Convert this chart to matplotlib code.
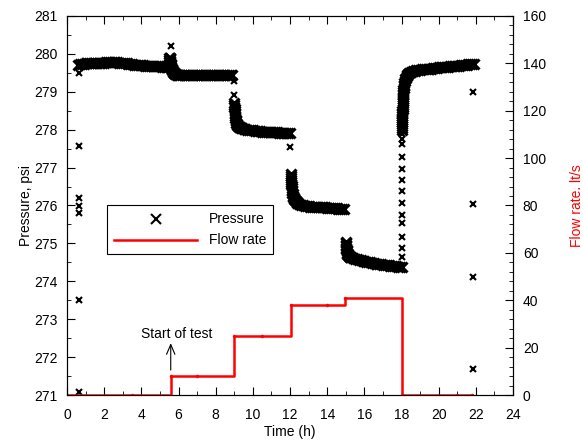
import numpy as np
import matplotlib
matplotlib.use('Agg')
import matplotlib.pyplot as plt
from matplotlib.ticker import MultipleLocator

plt.rcParams['font.family'] = ['Liberation Sans', 'DejaVu Sans']
plt.rcParams['font.size'] = 10

# Pressure record (psi) -- logger readings, grouped by flow step

# before test, 0.6 - 5.4 h
t_a = np.round(np.arange(0.6, 5.45, 0.1), 2)
p_a = [279.70, 279.72, 279.73, 279.74, 279.75,
       279.75, 279.75, 279.76, 279.76, 279.76, 279.76, 279.76, 279.76, 279.76,
       279.76, 279.77, 279.77, 279.77, 279.77, 279.77, 279.77, 279.77, 279.76, 279.76,
       279.76, 279.75, 279.75, 279.74, 279.73, 279.72, 279.71, 279.71, 279.70, 279.70,
       279.70, 279.70, 279.69, 279.69, 279.69, 279.68, 279.68, 279.68, 279.67, 279.67,
       279.67, 279.66, 279.66, 279.65, 279.65]

# pump start spike
t_s = [5.45, 5.47, 5.48, 5.49, 5.5, 5.51, 5.52, 5.53, 5.54, 5.55, 5.56, 5.57, 5.58, 5.6,
       5.62, 5.64, 5.66, 5.68, 5.7, 5.73, 5.76, 5.8, 5.85, 5.9, 5.95]
p_s = [279.66, 279.70, 279.74, 279.79, 279.84, 279.88, 279.90, 279.88, 279.85, 279.82,
       279.78, 279.74, 279.70, 279.66, 279.62, 279.59, 279.56, 279.54, 279.52, 279.50,
       279.49, 279.47, 279.46, 279.45, 279.45]

# step 1, 6.0 - 8.9 h
t_b = np.round(np.arange(6.0, 8.95, 0.1), 2)
p_b = [279.45, 279.45, 279.45, 279.45, 279.45, 279.44, 279.44, 279.44, 279.44, 279.44,
       279.44, 279.44, 279.44, 279.44, 279.44, 279.44, 279.44, 279.44, 279.44, 279.44,
       279.44, 279.44, 279.44, 279.44, 279.44, 279.43, 279.43, 279.43, 279.43, 279.43]

# step 2
t_c = [9.0, 9.005, 9.01, 9.015, 9.02, 9.027, 9.035, 9.045, 9.06, 9.075, 9.09, 9.11,
       9.135, 9.17, 9.2, 9.25, 9.3, 9.35, 9.4, 9.5, 9.6, 9.7, 9.8, 9.9]
p_c = [278.70, 278.65, 278.60, 278.55, 278.50, 278.45, 278.40, 278.35, 278.30, 278.26,
       278.22, 278.18, 278.15, 278.12, 278.10, 278.08, 278.07, 278.05, 278.04, 278.02,
       278.01, 278.00, 277.99, 277.98]
t_c2 = np.round(np.arange(10.0, 12.05, 0.1), 2)
p_c2 = [277.98, 277.97, 277.97, 277.96, 277.96, 277.95, 277.95, 277.95, 277.94, 277.94,
        277.94, 277.93, 277.93, 277.93, 277.92, 277.92, 277.92, 277.91, 277.91, 277.91,
        277.90]

# step 3
t_d = [12.05, 12.055, 12.06, 12.065, 12.07, 12.075, 12.08, 12.09, 12.1, 12.11, 12.12,
       12.14, 12.16, 12.18, 12.2, 12.23, 12.26, 12.3, 12.35, 12.4, 12.5, 12.6, 12.7,
       12.8, 12.9]
p_d = [276.82, 276.77, 276.72, 276.67, 276.62, 276.57, 276.52, 276.47, 276.42, 276.38,
       276.34, 276.30, 276.26, 276.23, 276.20, 276.17, 276.14, 276.11, 276.08, 276.06,
       276.03, 276.01, 276.00, 275.99, 275.98]
t_d2 = np.round(np.arange(13.0, 14.95, 0.1), 2)
p_d2 = [275.98, 275.97, 275.97, 275.97, 275.96, 275.96, 275.96, 275.95, 275.95, 275.95,
        275.94, 275.94, 275.94, 275.93, 275.93, 275.93, 275.92, 275.92, 275.92, 275.91]

# step 4
t_e = [15.0, 15.005, 15.01, 15.015, 15.02, 15.03, 15.04, 15.05, 15.065, 15.08, 15.1,
       15.12, 15.15, 15.2, 15.25, 15.3, 15.4, 15.5, 15.6, 15.7, 15.8, 15.9]
p_e = [275.04, 275.00, 274.96, 274.92, 274.88, 274.85, 274.82, 274.79, 274.76, 274.73,
       274.71, 274.69, 274.67, 274.65, 274.64, 274.63, 274.62, 274.60, 274.58, 274.57,
       274.55, 274.54]
t_e2 = np.round(np.arange(16.0, 18.05, 0.1), 2)
p_e2 = [274.53, 274.52, 274.51, 274.50, 274.49, 274.48, 274.47, 274.46, 274.46, 274.45,
        274.44, 274.43, 274.43, 274.42, 274.41, 274.41, 274.40, 274.40, 274.39, 274.39,
        274.38]

# recovery after pump stop
t_r = [18.03, 18.032, 18.034, 18.036, 18.038, 18.04, 18.042, 18.044, 18.046, 18.048,
       18.05, 18.053, 18.056, 18.06, 18.064, 18.068, 18.072, 18.077, 18.082, 18.088,
       18.095, 18.1, 18.11, 18.12, 18.13, 18.15, 18.17, 18.2, 18.23, 18.27,
       18.3, 18.35, 18.4, 18.5, 18.6, 18.7, 18.8, 18.9]
p_r = [278.00, 278.05, 278.10, 278.15, 278.20, 278.25, 278.30, 278.35, 278.40, 278.45,
       278.50, 278.55, 278.60, 278.65, 278.70, 278.75, 278.80, 278.85, 278.90, 278.95,
       279.00, 279.04, 279.09, 279.14, 279.18, 279.24, 279.28, 279.33, 279.37, 279.41,
       279.44, 279.47, 279.49, 279.52, 279.54, 279.55, 279.56, 279.57]
t_r2 = np.round(np.arange(19.0, 21.95, 0.1), 2)
p_r2 = [279.58, 279.59, 279.59, 279.60, 279.60, 279.61, 279.61, 279.62, 279.62, 279.63,
        279.64, 279.64, 279.65, 279.65, 279.66, 279.66, 279.67, 279.67, 279.68, 279.68,
        279.69, 279.69, 279.70, 279.70, 279.71, 279.71, 279.72, 279.72, 279.73, 279.74]

# scattered readings
t_x = [0.63] * 7 + [5.58] + [8.97, 8.97] + [11.98] + [18.0] * 13 + [21.82] * 4
p_x = [279.49, 277.58, 276.19, 275.99, 275.79, 273.52, 271.07,
       280.21,
       279.27, 278.90,
       277.53,
       274.64, 274.88, 275.17, 275.54, 275.75, 276.07, 276.38, 276.67, 276.96, 277.28,
       277.62, 277.75, 277.89,
       278.98, 276.04, 274.12, 271.70]

# Flow rate (lt/s)
t_q = [0, 3.5, 5.57, 7.0, 8.98, 10.5, 12.03, 14.0, 14.96, 18.0, 21.0, 21.78]
q = [0, 0, 8, 8, 25, 25, 38, 38, 41, 0, 0, 0]

t_band = np.concatenate([t_a, t_s, t_b, t_c, t_c2, t_d, t_d2, t_e, t_e2, t_r, t_r2])
p_band = np.concatenate([p_a, p_s, p_b, p_c, p_c2, p_d, p_d2, p_e, p_e2, p_r, p_r2])

fig = plt.figure(figsize=(5.83, 4.4), dpi=100)
ax = fig.add_axes([0.115, 0.102, 0.765, 0.862])
ax2 = ax.twinx()

ax.plot(t_band, p_band, 'x', color='k', ms=6.5, mew=2.2)
ax.plot(t_x, p_x, 'x', color='k', ms=5, mew=1.5, label='Pressure')
ax2.plot(t_q, q, '-', color='r', lw=1.8, drawstyle='steps-post', label='Flow rate')
ax2.plot(t_q, q, 'o', color='r', ms=2.5, mew=0)

ax.set_xlim(0, 24)
ax.set_ylim(271, 281)
ax2.set_ylim(0, 160)

ax.xaxis.set_major_locator(MultipleLocator(2))
ax.xaxis.set_minor_locator(MultipleLocator(1))
ax.yaxis.set_major_locator(MultipleLocator(1))
ax.yaxis.set_minor_locator(MultipleLocator(0.5))
ax2.yaxis.set_major_locator(MultipleLocator(20))
ax2.yaxis.set_minor_locator(MultipleLocator(4))

ax.tick_params(which='both', direction='in', top=True, right=False)
ax.tick_params(which='major', length=6)
ax.tick_params(which='minor', length=3)
ax.tick_params(axis='x', which='major', pad=9)
ax.tick_params(axis='y', which='major', pad=7)
ax2.tick_params(which='both', direction='in')
ax2.tick_params(which='major', length=6, pad=7)
ax2.tick_params(which='minor', length=3)

ax.set_xlabel('Time (h)')
ax.set_ylabel('Pressure, psi')
ax2.set_ylabel('Flow rate. lt/s', color='r')
ax.xaxis.set_label_coords(0.5, -0.078)
ax.yaxis.set_label_coords(-0.076, 0.5)
ax2.yaxis.set_label_coords(1.128, 0.5)

# start of test marker
ax.annotate('', xy=(5.58, 272.37), xytext=(5.58, 271.66),
            arrowprops=dict(arrowstyle='->, head_length=0.7, head_width=0.3', lw=0.8, color='k',
                            shrinkA=0, shrinkB=0))
ax.text(5.9, 272.43, 'Start of test', ha='center', va='bottom')

h1, l1 = ax.get_legend_handles_labels()
h2, l2 = ax2.get_legend_handles_labels()
leg = ax.legend(h1 + h2[:1], l1 + l2[:1], loc='upper left', bbox_to_anchor=(0.09, 0.50),
                borderaxespad=0, fancybox=False, framealpha=1, edgecolor='k',
                handlelength=6.0, handletextpad=0.8, numpoints=1, labelspacing=0.5,
                borderpad=0.5, markerscale=1.4)
leg.get_frame().set_linewidth(0.8)
leg.set_zorder(5)

fig.savefig('out.png', dpi=100)
